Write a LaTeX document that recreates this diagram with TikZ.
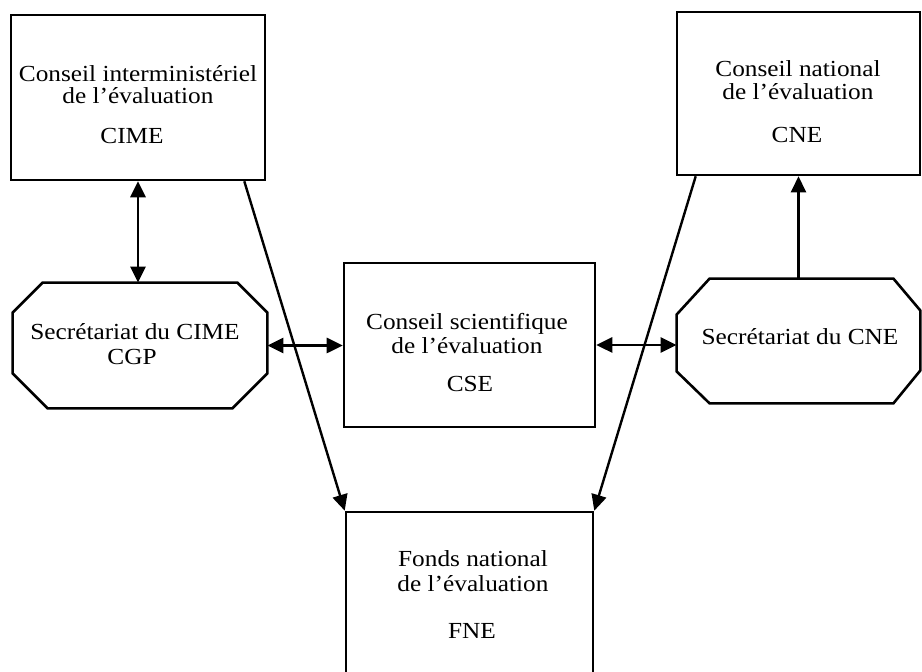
\documentclass[tikz,border=0pt]{standalone}
\usepackage{fontspec}
\setmainfont{Liberation Serif}[FakeStretch=1.1]
\usetikzlibrary{arrows.meta}
\begin{document}
\begin{tikzpicture}[x=0.5pt,y=-0.5pt,
  box/.style={draw, line width=1.3pt, inner sep=0pt},
  slot/.style={draw=none, inner sep=0pt},
  octo/.style={line width=1.3pt, line join=miter},
  lbl/.style={anchor=base, inner sep=0pt, font=\fontsize{11.5}{12}\selectfont},
  link/.style={line width=1.2pt, -{Triangle[length=8pt,width=7.5pt]}},
  dlink/.style={line width=1.4pt, {Triangle[length=8pt,width=7.5pt]}-{Triangle[length=8pt,width=7.5pt]}}]
\useasboundingbox (0,0) rectangle (922,672);
\clip (0,0) rectangle (922,672);

% boxes
\node[box, minimum width=127pt, minimum height=82.5pt] (cime) at (138,97.5) {};
\node[box, minimum width=121.5pt, minimum height=81.5pt] (cne) at (798.5,93.5) {};
\node[box, minimum width=125.5pt, minimum height=82pt] (cse) at (469.5,345) {};
\node[box, minimum width=123.5pt, minimum height=104pt] (fne) at (469.5,616) {};

% octagons
\node[slot, minimum width=127pt, minimum height=62.5pt] (seccime) at (140,345.5) {};
\draw[octo] ([xshift=15pt]seccime.north west) -- ([xshift=-15pt]seccime.north east)
  -- ([yshift=-15pt]seccime.north east) -- ([yshift=17.5pt]seccime.south east)
  -- ([xshift=-17.5pt]seccime.south east) -- ([xshift=17.5pt]seccime.south west)
  -- ([yshift=17.5pt]seccime.south west) -- ([yshift=-15pt]seccime.north west) -- cycle;
\node[slot, minimum width=121.5pt, minimum height=62pt] (seccne) at (798.5,341) {};
\draw[octo] ([xshift=16.5pt]seccne.north west) -- ([xshift=-13.5pt]seccne.north east)
  -- ([yshift=-16pt]seccne.north east) -- ([yshift=16.5pt]seccne.south east)
  -- ([xshift=-13.5pt]seccne.south east) -- ([xshift=16.5pt]seccne.south west)
  -- ([yshift=16pt]seccne.south west) -- ([yshift=-18pt]seccne.north west) -- cycle;

% texts
\node[lbl] (t1) at (138,82) {Conseil interministériel};
\node[lbl] (t2) at (138,104) {de l’évaluation};
\node[lbl] (t3) at (132,144) {CIME};
\node[lbl] (t4) at (798,77) {Conseil national};
\node[lbl] (t5) at (798,100) {de l’évaluation};
\node[lbl] (t6) at (797,143) {CNE};
\node[lbl] (t7) at (135,340) {Secrétariat du CIME};
\node[lbl] (t8) at (132,365) {CGP};
\node[lbl] (t9) at (467,330) {Conseil scientifique};
\node[lbl] (t10) at (467,354) {de l’évaluation};
\node[lbl] (t11) at (470,392) {CSE};
\node[lbl] (t12) at (800,345) {Secrétariat du CNE};
\node[lbl] (t13) at (473,567) {Fonds national};
\node[lbl] (t14) at (473,592) {de l’évaluation};
\node[lbl] (t15) at (472,639) {FNE};

% connectors
\draw[dlink] (cime.south) -- (cime.south |- seccime.north);
\draw[dlink] (seccime.east) -- (seccime.east -| cse.west);
\draw[dlink] (cse.east) -- (cse.east -| seccne.west);
\draw[link] (seccne.north) -- (cne.south);
\draw[link] ([xshift=-11pt]cime.south east) -- (fne.north west);
\draw[link] ([xshift=10pt]cne.south west) -- (fne.north east);
\end{tikzpicture}
\end{document}
